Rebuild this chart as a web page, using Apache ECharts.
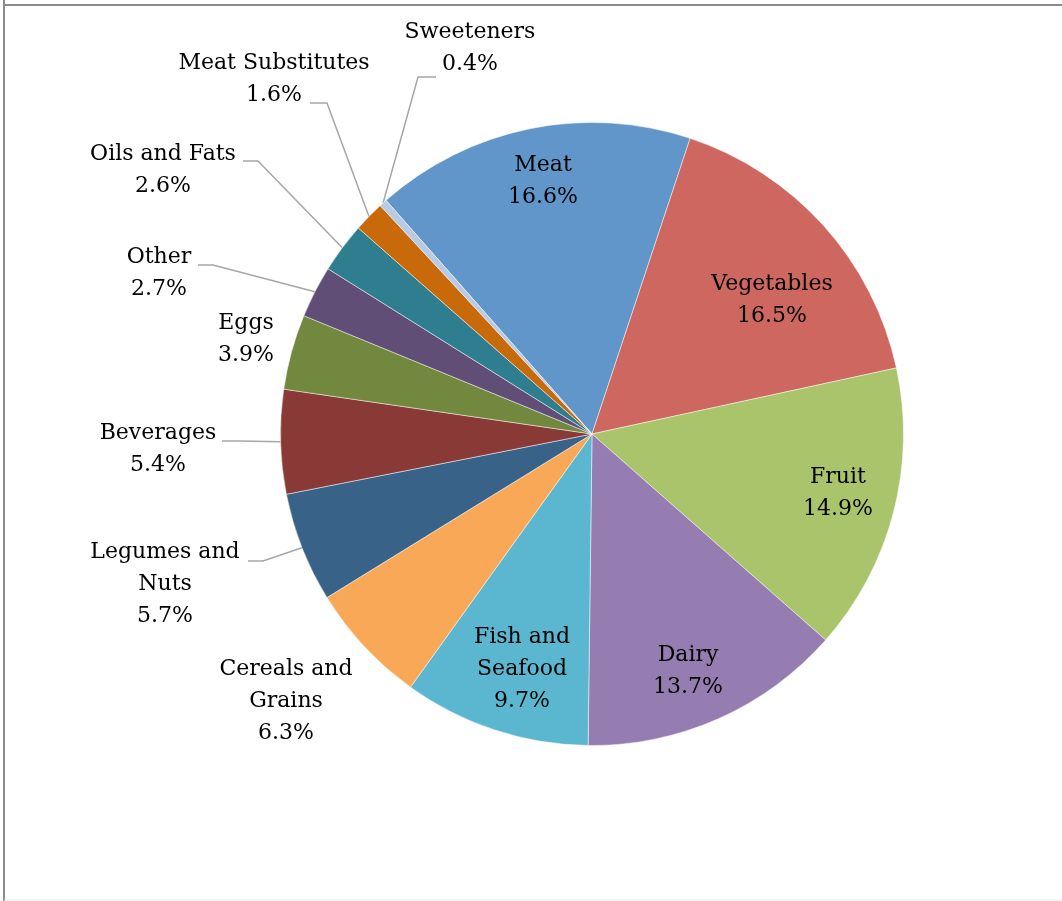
<!DOCTYPE html>
<html>
<head>
<meta charset="utf-8">
<script src="https://cdn.jsdelivr.net/npm/echarts@6/dist/echarts.min.js"></script>
<style>
html,body{margin:0;padding:0;background:#fff;}
#chart{width:1062px;height:901px;}
</style>
</head>
<body>
<div id="chart"></div>
<script>
// ---- data ----
var categories = ['Meat','Vegetables','Fruit','Dairy','Fish and\nSeafood','Cereals and\nGrains','Legumes and\nNuts','Beverages','Eggs','Other','Oils and Fats','Meat Substitutes','Sweeteners'];
var shares = [16.6, 16.5, 14.9, 13.7, 9.7, 6.3, 5.7, 5.4, 3.9, 2.7, 2.6, 1.6, 0.4];

// ---- styling / layout ----
var colors = ['#6096C9','#CD675F','#A9C46B','#957CB1','#5BB7D0','#F9A857','#386288','#8A3A36','#72883E','#604E77','#2E7E8F','#C96A0A','#B9CBE4'];
var CX = 592, CY = 434, R = 311.5, START = 131.4;
// label block centres (x, y)
var labelPos = [[543,181],[772,300],[838,493],[688,671],[522,669],[286,701],[165,584],[158,449],[246,339],[159,273],[163,170],[274,79],[470,48]];
var inside = [true,true,true,true,true,false,false,false,false,false,false,false,false];
// leader line elbow and end points (null = no line)
var leader = [null,null,null,null,null,null,
  [[263,561],[248,561]],
  [[240,441],[222,441]],
  null,
  [[213,265],[198,265]],
  [[258,161],[243,161]],
  [[327,103],[310,103]],
  [[418,77],[436,77]]];

var total = shares.reduce(function(a,b){return a+b;},0);
function edgePoint(i){
  var before = 0;
  for (var k=0;k<i;k++) before += shares[k];
  var mid = before + shares[i]/2;
  var ang = (START - mid/total*360) * Math.PI/180;
  return [CX + R*Math.cos(ang), CY - R*Math.sin(ang)];
}

var data = categories.map(function(c,i){
  return {
    name: c,
    value: shares[i],
    itemStyle: {color: colors[i]},
    label: {position: inside[i] ? 'inside' : 'outside'},
    labelLine: {show: !!leader[i]}
  };
});

var chart = echarts.init(document.getElementById('chart'), null, {renderer:'canvas'});
chart.setOption({
  animation: false,
  backgroundColor: '#fff',
  graphic: [
    {type:'line', shape:{x1:4,y1:0,x2:4,y2:901}, style:{stroke:'#8C8C8C', lineWidth:2}},
    {type:'line', shape:{x1:4,y1:5,x2:1062,y2:5}, style:{stroke:'#8C8C8C', lineWidth:2}},
    {type:'line', shape:{x1:4,y1:900,x2:1062,y2:900}, style:{stroke:'#E6E6E6', lineWidth:1}}
  ],
  series: [{
    type: 'pie',
    center: [CX, CY],
    radius: [0, R],
    startAngle: START,
    clockwise: true,
    avoidLabelOverlap: false,
    data: data,
    itemStyle: {borderColor: 'rgba(255,255,255,0.6)', borderWidth: 0.8},
    label: {
      show: true,
      color: '#000',
      fontFamily: 'DejaVu Serif',
      fontSize: 22,
      lineHeight: 32,
      align: 'center',
      formatter: function(p){ return p.name + '\n' + p.value.toFixed(1) + '%'; }
    },
    labelLine: {show: true, length: 20, length2: 15, lineStyle: {color: '#A6A6A6', width: 1.5}},
    labelLayout: function(params){
      var i = params.dataIndex;
      var res = {x: labelPos[i][0], y: labelPos[i][1], align: 'center', verticalAlign: 'middle'};
      if (leader[i]) {
        res.labelLinePoints = [edgePoint(i), leader[i][0], leader[i][1]];
      }
      return res;
    }
  }]
});
</script>
</body>
</html>
